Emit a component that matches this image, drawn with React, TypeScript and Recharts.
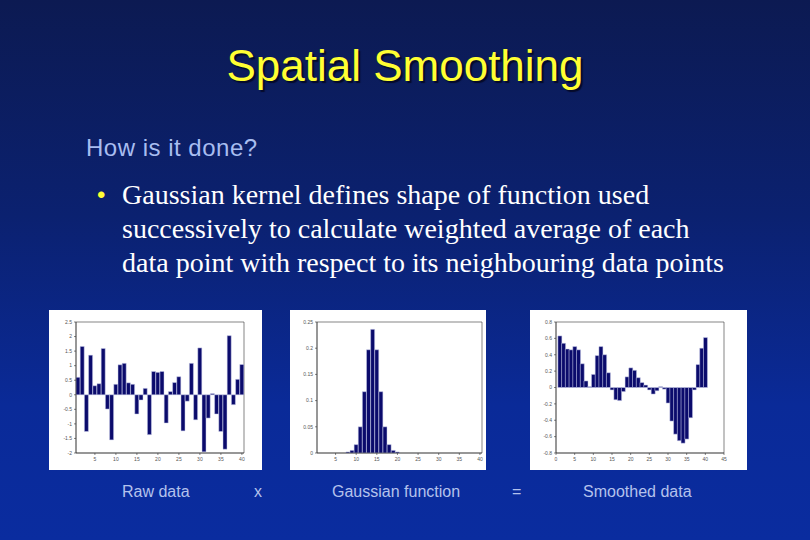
import { Bar, BarChart, ReferenceArea, XAxis, YAxis } from "recharts";

// values (bar index 1..40)
const rawValues = [
  0.6, 1.66, -1.26, 1.36, 0.31, 0.38, 1.59, -0.49, -1.55, 0.36, 1.03, 1.08, 0.41, 0.36, -0.66, -0.18,
  0.22, -1.37, 0.8, 0.77, 0.8, -0.97, 0.11, 0.42, 0.62, -1.24, -0.22, 1.08, -0.86, 1.61, -1.96, -0.8,
  0.04, -0.66, -1.26, -1.87, 2.03, -0.34, 0.53, 1.04,
];
const gaussValues = [
  0, 0, 0, 0, 0, 0, 0, 0.002, 0.005, 0.016, 0.05, 0.117, 0.197, 0.236, 0.197, 0.117, 0.05, 0.016,
  0.005, 0.002, 0, 0, 0, 0, 0, 0, 0, 0, 0, 0, 0, 0, 0, 0, 0, 0, 0, 0, 0, 0,
];
const smoothValues = [
  0.63, 0.54, 0.47, 0.46, 0.5, 0.46, 0.29, 0.08, 0.01, 0.16, 0.39, 0.5, 0.4, 0.18, -0.03, -0.15,
  -0.16, -0.05, 0.13, 0.24, 0.21, 0.12, 0.06, 0.03, -0.03, -0.08, -0.04, 0.01, -0.02, -0.19, -0.41,
  -0.57, -0.65, -0.68, -0.63, -0.37, -0.03, 0.28, 0.48, 0.61,
];

const xTicks40 = [5, 10, 15, 20, 25, 30, 35, 40];
const xTicks45 = [0, 5, 10, 15, 20, 25, 30, 35, 40, 45];
const rawTicks = [-2, -1.5, -1, -0.5, 0, 0.5, 1, 1.5, 2, 2.5];
const gaussTicks = [0, 0.05, 0.1, 0.15, 0.2, 0.25];
const smoothTicks = [-0.8, -0.6, -0.4, -0.2, 0, 0.2, 0.4, 0.6, 0.8];

const bulletLines = [
  "Gaussian kernel defines shape of function used",
  "successively to calculate weighted average of each",
  "data point with respect to its neighbouring data points",
];

const captions = [
  { text: "Raw data", x: 122 },
  { text: "x", x: 254 },
  { text: "Gaussian function", x: 332 },
  { text: "=", x: 512 },
  { text: "Smoothed data", x: 583 },
];

const toRows = (vals: number[]) => vals.map((v, i) => ({ x: i + 1, v }));

const tickStyle = { fontSize: 5, fill: "#555", fontFamily: "Liberation Sans, Arial, sans-serif" };
const axisLine = { stroke: "#333", strokeWidth: 0.6 };

interface PanelProps {
  values: number[];
  left: number;
  top: number;
  width: number;
  height: number;
  rightGap: number;
  yWidth: number;
  xDomain: [number, number];
  xTicks: number[];
  yDomain: [number, number];
  yTicks: number[];
}

function Panel({ values, left, top, width, height, rightGap, yWidth, xDomain, xTicks, yDomain, yTicks }: PanelProps) {
  return (
    <div style={{ position: "absolute", left, top, width, height, background: "#fff" }}>
      <BarChart
        width={width}
        height={height}
        data={toRows(values)}
        margin={{ top: 12, right: rightGap, bottom: 0, left: 0 }}
        barCategoryGap={0}
      >
        <XAxis
          dataKey="x"
          type="number"
          domain={xDomain}
          ticks={xTicks}
          allowDataOverflow
          height={17}
          tick={tickStyle}
          tickSize={2}
          axisLine={axisLine}
          tickLine={axisLine}
          interval={0}
        />
        <YAxis
          type="number"
          domain={yDomain}
          ticks={yTicks}
          allowDataOverflow
          width={yWidth}
          tick={tickStyle}
          tickSize={2}
          axisLine={axisLine}
          tickLine={axisLine}
          interval={0}
        />
        <ReferenceArea
          x1={xDomain[0]}
          x2={xDomain[1]}
          y1={yDomain[0]}
          y2={yDomain[1]}
          fill="none"
          stroke="#333"
          strokeWidth={0.6}
          ifOverflow="visible"
        />
        <Bar dataKey="v" fill="#0b0b6c" stroke="#c9cdea" strokeWidth={0.5} isAnimationActive={false} />
      </BarChart>
    </div>
  );
}

export default function App() {
  return (
    <div
      style={{
        position: "absolute",
        left: 0,
        top: 0,
        width: 810,
        height: 540,
        overflow: "hidden",
        background: "linear-gradient(180deg, #0c1a52 0%, #0b2170 40%, #0a2a98 75%, #0a2c9f 100%)",
      }}
    >
      <div
        style={{
          position: "absolute",
          left: 0,
          width: 810,
          top: 38,
          textAlign: "center",
          fontFamily: "Liberation Sans, Arial, sans-serif",
          fontSize: 44,
          color: "#ffff33",
          lineHeight: "56px",
          textShadow: "2px 2px 1px #050a2a",
        }}
      >
        Spatial Smoothing
      </div>
      <div
        style={{
          position: "absolute",
          left: 86,
          top: 134,
          fontFamily: "Liberation Sans, Arial, sans-serif",
          fontSize: 24,
          letterSpacing: 0.5,
          color: "#a8bdf0",
          lineHeight: "28px",
        }}
      >
        How is it done?
      </div>
      <div
        style={{
          position: "absolute",
          left: 97,
          top: 180,
          color: "#ffff33",
          fontFamily: "Liberation Sans, Arial, sans-serif",
          fontSize: 24,
          lineHeight: "30px",
        }}
      >
        •
      </div>
      <div
        style={{
          position: "absolute",
          left: 122,
          top: 178,
          fontFamily: "Liberation Serif, Times New Roman, serif",
          fontSize: 28,
          lineHeight: "34px",
          color: "#ffffff",
          whiteSpace: "nowrap",
        }}
      >
        {bulletLines.map((l) => (
          <div key={l}>{l}</div>
        ))}
      </div>

      <Panel
        values={rawValues}
        left={49}
        top={310}
        width={213}
        height={160}
        rightGap={18}
        yWidth={27}
        xDomain={[0.5, 40.5]}
        xTicks={xTicks40}
        yDomain={[-2, 2.5]}
        yTicks={rawTicks}
      />
      <Panel
        values={gaussValues}
        left={290}
        top={310}
        width={196}
        height={160}
        rightGap={4}
        yWidth={27}
        xDomain={[0.5, 40.5]}
        xTicks={xTicks40}
        yDomain={[0, 0.25]}
        yTicks={gaussTicks}
      />
      <Panel
        values={smoothValues}
        left={530}
        top={310}
        width={217}
        height={160}
        rightGap={23}
        yWidth={26}
        xDomain={[0, 45]}
        xTicks={xTicks45}
        yDomain={[-0.8, 0.8]}
        yTicks={smoothTicks}
      />

      {captions.map((c) => (
        <div
          key={c.text}
          style={{
            position: "absolute",
            left: c.x,
            top: 483,
            fontFamily: "Liberation Sans, Arial, sans-serif",
            fontSize: 16,
            color: "#b4c2ec",
          }}
        >
          {c.text}
        </div>
      ))}
    </div>
  );
}
